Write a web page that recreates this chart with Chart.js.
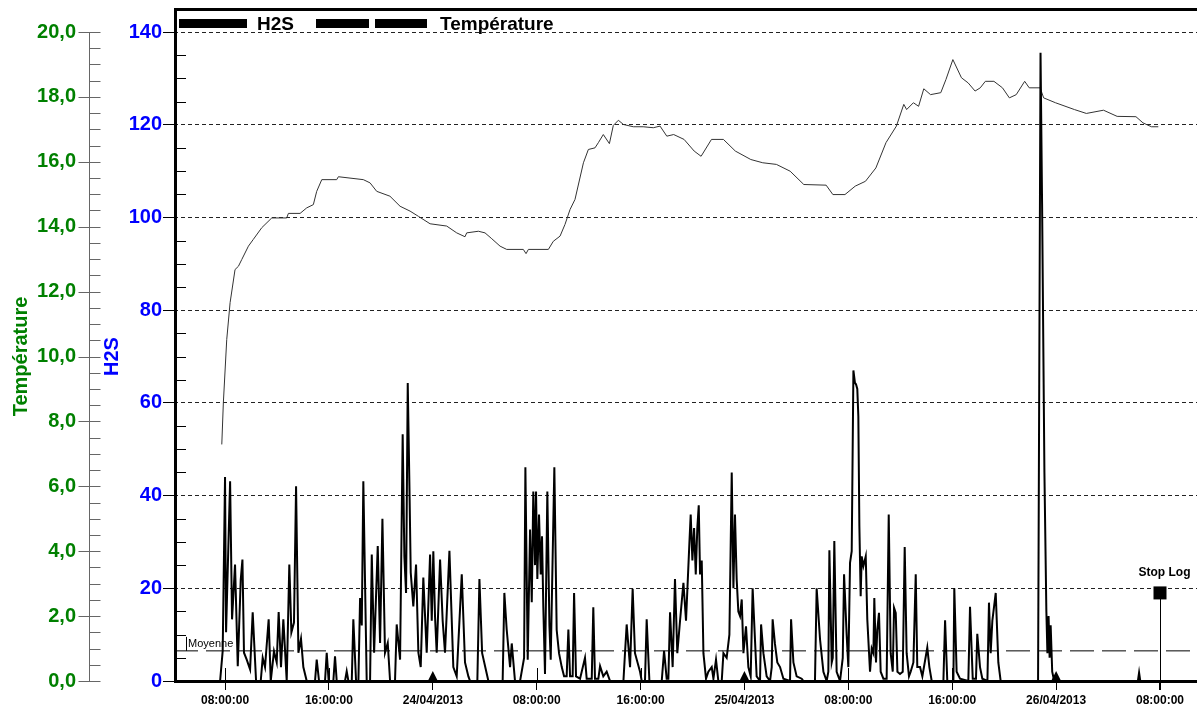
<!DOCTYPE html>
<html><head><meta charset="utf-8">
<script src="https://cdn.jsdelivr.net/npm/chart.js@4/dist/chart.umd.min.js"></script>
<style>html,body{margin:0;padding:0;background:#fff;overflow:hidden}#wrap{width:1197px;height:707px;position:relative}</style>
</head><body><div id="wrap"><canvas id="c" width="1197" height="707"></canvas></div>
<script>
const FONT = '"Liberation Sans", Arial, sans-serif';

// x axis: hours since 23/04/2013 00:00
const xRange = [4.07, 82.85];
const xTickHours = [8, 16, 24, 32, 40, 48, 56, 64, 72, 80];
const xTickLabels = ['08:00:00','16:00:00','24/04/2013','08:00:00','16:00:00','25/04/2013','08:00:00','16:00:00','26/04/2013','08:00:00'];
const dayMarkHours = [24, 48, 72];

const h2sRange = [0, 140];
const tempRange = [0, 20];

const tempHours = [7.75,7.87,8.13,8.39,8.77,9.03,9.29,9.80,10.18,10.83,11.6,12.75,12.88,13.78,14.29,14.8,15.06,15.45,16.6,16.73,18.65,19.17,19.68,20.7,21.48,22.25,22.89,23.79,25.07,25.84,26.48,26.61,27.51,28.02,28.54,29.18,29.69,30.97,31.18,31.36,32.9,33.28,33.8,34.18,34.57,34.95,35.6,35.98,36.49,36.75,37.13,37.6,37.9,38.29,38.68,39.44,40.2,40.98,41.5,42.02,42.55,43.35,44.13,44.66,45.46,46.38,47.3,48.49,49.41,50.46,51.52,52.57,54.29,54.81,55.74,56.53,57.32,58.12,58.9,59.7,60.27,60.49,61.01,61.41,61.81,62.33,63.12,63.52,64.05,64.71,65.23,65.76,66.16,66.55,67.21,67.87,68.4,68.93,69.58,69.93,70.77,71.04,71.95,73.41,74.33,75.65,76.7,78.15,78.69,79.34,79.87];
const tempValues = [7.29,8.57,10.52,11.66,12.68,12.78,12.99,13.40,13.61,13.97,14.27,14.27,14.41,14.41,14.58,14.68,15.09,15.45,15.45,15.54,15.45,15.35,15.09,14.94,14.63,14.48,14.32,14.09,14.02,13.81,13.69,13.81,13.86,13.81,13.63,13.40,13.30,13.30,13.17,13.30,13.30,13.55,13.71,14.07,14.53,14.84,15.97,16.38,16.43,16.59,16.84,16.56,17.12,17.28,17.15,17.08,17.08,17.05,17.10,16.79,16.84,16.69,16.33,16.17,16.69,16.69,16.33,16.07,15.97,15.92,15.71,15.30,15.28,14.99,14.99,15.25,15.40,15.81,16.59,17.10,17.77,17.61,17.82,17.71,18.25,18.07,18.13,18.54,19.15,18.59,18.43,18.18,18.28,18.48,18.48,18.28,17.97,18.07,18.48,18.28,18.28,17.97,17.82,17.61,17.49,17.59,17.40,17.39,17.20,17.08,17.08];

const h2sHours = [7.62,7.82,8.00,8.08,8.39,8.54,8.77,8.98,9.21,9.34,9.46,9.67,9.93,10.13,10.39,10.75,10.90,11.08,11.36,11.52,11.77,11.98,12.13,12.31,12.49,12.75,12.95,13.11,13.31,13.47,13.65,13.85,14.03,14.29,14.93,15.06,15.24,15.70,15.83,15.98,16.34,16.47,16.60,17.24,17.37,17.50,17.76,17.88,18.09,18.27,18.40,18.53,18.65,18.91,19.17,19.30,19.48,19.76,19.94,20.12,20.32,20.53,20.71,21.09,21.22,21.48,21.68,21.81,21.94,22.07,22.20,22.30,22.50,22.71,22.89,23.07,23.27,23.53,23.79,23.92,24.04,24.17,24.30,24.56,24.76,24.94,25.28,25.58,25.84,26.23,26.48,26.74,26.87,
27.43,27.59,27.80,28.28,29.38,29.51,29.69,29.95,30.08,30.33,30.72,31.03,31.13,31.31,31.49,31.62,31.74,31.87,31.95,32.05,32.18,32.31,32.41,32.51,32.64,32.82,32.98,33.08,33.36,33.54,33.72,33.93,34.11,34.31,34.44,34.57,34.77,34.88,35.03,35.34,35.72,35.85,36.24,36.36,36.49,36.75,36.88,37.13,37.39,37.65,38.68,38.80,38.93,39.19,39.39,39.57,39.96,40.09,40.34,40.47,40.68,41.63,41.81,42.01,42.14,42.27,42.47,42.65,42.83,43.04,43.30,43.50,43.76,43.86,43.99,44.12,44.25,44.37,44.48,44.58,44.71,44.84,45.04,45.22,45.48,45.61,45.81,45.99,46.25,46.38,46.63,46.84,47.02,47.15,47.27,47.40,47.53,47.66,47.79,47.92,48.12,48.30,48.48,48.63,
48.94,49.20,49.28,49.46,49.71,49.97,50.10,50.17,50.35,50.53,50.74,51.00,51.51,51.59,51.77,52.02,52.41,52.54,53.43,53.56,53.82,54.08,54.33,54.46,54.54,54.72,54.80,54.92,55.10,55.36,55.57,55.67,55.87,56.00,56.13,56.26,56.39,56.51,56.59,56.69,56.77,56.85,56.95,57.03,57.16,57.34,57.46,57.67,57.80,57.93,58.00,58.13,58.23,58.36,58.49,58.70,58.95,59.11,59.26,59.42,59.52,59.65,59.78,59.98,60.19,60.34,60.49,60.67,60.80,61.01,61.19,61.31,61.52,61.70,62.08,62.24,62.42,63.32,63.45,63.62,64.09,64.16,64.34,64.60,65.24,65.37,65.58,65.83,65.93,66.14,66.32,66.71,66.83,66.96,67.09,67.35,67.55,67.73,70.61,70.80,70.92,71.10,71.25,71.33,71.42,71.50,71.58,71.70,71.85,78.30,78.39,78.48,80.00];
const h2sValues = [0,6.5,44.0,10.5,43.1,13.3,25.1,3.2,21.9,26.2,6.1,4.6,2.5,14.8,0,0,5.0,3.0,13.3,0,6.4,4.0,14.9,3.0,13.3,0,25.1,10.5,12.6,42.0,6.1,9.1,3.0,0,0,4.6,0,0,6.1,0,0,5.3,0,0,2.1,0,0,13.3,0,0,17.9,12,43.1,0,0,27.3,6.1,29.1,8.2,35.0,6.1,8.2,0,0,12.2,4.6,53.2,26.9,19.0,64.3,42.0,23.4,16.1,25.1,6.1,3.0,22.3,6.1,27.3,13.0,28.0,14.0,6.1,26.2,13.0,6.1,28.1,3.0,1.0,23.0,4.0,1.0,0,
0,22.0,6.0,0,0,19.0,11.1,3.0,8.1,0,0,5.0,46.1,4.6,32.7,17.0,40.9,25.0,40.9,22.0,35.9,23.0,31.2,16.0,1.5,40.9,12.0,4.6,46.1,11.0,6.0,3.0,1.0,1.0,11.1,1.0,1.0,19.0,1.0,0.5,5.0,0.5,0.5,15.9,0.5,0.5,3.2,1.0,2.0,0,0,6.0,12.2,3.0,19.9,6.0,2.0,0,0,13.3,0,0,6.5,0.5,0.5,14.8,3.0,22.0,6.0,13.0,21.2,13.0,29.8,35.9,26.0,33.0,23.0,33.0,37.9,23.0,26.0,6.0,0.5,2.0,3.0,0.5,4.6,0,0,6.0,5.0,10.0,45.0,20.0,35.9,22.0,15.0,14.0,17.6,6.0,11.8,3.0,1.0,20.0,
1.0,0,12.2,6.0,1.0,0,3.0,13.3,8.0,4.0,3.0,0.5,0,13.3,4.0,1.0,0.5,0,0,20.0,9.0,2.0,0,2.0,28.2,4.0,5.0,30.2,2.0,0,5.0,23.0,10.0,3.0,25.5,28.0,67.0,64.3,64.0,63.0,57.1,33.4,18.3,26.9,24.8,26.9,13.3,2.0,7.0,6.0,17.9,4.0,11.0,14.7,2.0,0.5,0.5,35.9,6.0,2.0,15.8,14.7,2.0,1.5,2.0,28.9,6.0,1.0,2.0,4.0,23.0,3.0,3.0,1.0,7.2,3.0,0,0,13.1,0,0,20.0,2.0,0.5,0,16.0,0.5,0.5,10.2,3.0,0.5,0,16.9,6.0,13.0,19.0,4.0,0,0,135.5,103.0,45.0,15.0,6.0,14.0,5.0,12.0,2.0,0,0,1.8,0,0];

const moyenneH2S = 6.5;
const stopLogHour = 80;
const stopLogH2S = 19;
const legendItems = ['H2S', 'Température'];

const toXY = (hs, vs) => hs.map((h, i) => ({x: h, y: vs[i]}));

const decor = {
  id: 'decor',
  afterDraw(chart) {
    const {ctx, chartArea: ca, scales} = chart;
    const x = scales.x, y = scales.y, yT = scales.yT;
    ctx.save();
    // temperature axis ticks
    ctx.strokeStyle = '#666'; ctx.lineWidth = 1;
    const ax = yT.right + 0.5;
    for (let v = tempRange[0]; v <= tempRange[1] + 1e-6; v += 0.5) {
      const py = Math.round(yT.getPixelForValue(v)) + 0.5;
      const major = Math.abs(v / 2 - Math.round(v / 2)) < 1e-6;
      ctx.beginPath(); ctx.moveTo(major ? ax - 11 : ax, py); ctx.lineTo(ax + 11, py); ctx.stroke();
    }
    // H2S minor ticks inside
    ctx.strokeStyle = '#000';
    for (let v = 5; v < h2sRange[1]; v += 5) {
      if (v % 20 === 0) continue;
      const py = Math.round(y.getPixelForValue(v)) + 0.5;
      ctx.beginPath(); ctx.moveTo(ca.left + 3, py); ctx.lineTo(ca.left + 12, py); ctx.stroke();
    }
    // x inside ticks for time ticks
    xTickHours.forEach(h => {
      if (dayMarkHours.includes(h)) return;
      const px = Math.round(x.getPixelForValue(h)) + 0.5;
      ctx.beginPath(); ctx.moveTo(px, ca.bottom - 13); ctx.lineTo(px, ca.bottom); ctx.stroke();
    });
    // day triangles
    ctx.fillStyle = '#000';
    dayMarkHours.forEach(h => {
      const px = x.getPixelForValue(h);
      ctx.beginPath(); ctx.moveTo(px - 5, ca.bottom); ctx.lineTo(px + 5, ca.bottom); ctx.lineTo(px, ca.bottom - 10); ctx.closePath(); ctx.fill();
    });
    // Moyenne label
    const my = y.getPixelForValue(moyenneH2S);
    ctx.lineWidth = 1;
    ctx.beginPath(); ctx.moveTo(ca.left + 12.5, my - 14); ctx.lineTo(ca.left + 12.5, my); ctx.stroke();
    ctx.font = '11px ' + FONT; ctx.textAlign = 'left'; ctx.textBaseline = 'alphabetic';
    ctx.fillText('Moyenne', ca.left + 14, my - 4);
    // Stop Log
    const sx = Math.round(x.getPixelForValue(stopLogHour)) + 0.5;
    const sy = y.getPixelForValue(stopLogH2S);
    ctx.beginPath(); ctx.moveTo(sx, sy); ctx.lineTo(sx, ca.bottom + 9); ctx.stroke();
    ctx.fillRect(sx - 7, sy - 6.5, 13, 13);
    ctx.font = 'bold 12px ' + FONT; ctx.textAlign = 'center'; ctx.textBaseline = 'middle';
    ctx.fillText('Stop Log', sx + 4, sy - 20);
    // frame
    ctx.lineWidth = 3; ctx.strokeStyle = '#000';
    ctx.beginPath();
    ctx.moveTo(ca.left + 1.5, ca.bottom + 2);
    ctx.lineTo(ca.left + 1.5, 9.5);
    ctx.lineTo(chart.width + 2, 9.5);
    ctx.stroke();
    ctx.beginPath(); ctx.moveTo(ca.left, ca.bottom + 0.5); ctx.lineTo(chart.width, ca.bottom + 0.5); ctx.stroke();
    // legend
    ctx.fillStyle = '#000';
    ctx.fillRect(179, 19, 68, 9);
    ctx.fillRect(316, 19, 53, 9);
    ctx.fillRect(375, 19, 52, 9);
    ctx.font = 'bold 19px ' + FONT; ctx.textAlign = 'left'; ctx.textBaseline = 'alphabetic';
    ctx.fillText(legendItems[0], 257, 30);
    ctx.fillText(legendItems[1], 440, 30);
    ctx.restore();
  }
};

new Chart(document.getElementById('c'), {
  type: 'line',
  data: {
    datasets: [
      {label: 'H2S', data: toXY(h2sHours, h2sValues), xAxisID: 'x', yAxisID: 'y', borderColor: '#000', borderWidth: 2, pointRadius: 0, tension: 0, fill: false},
      {label: 'Température', data: toXY(tempHours, tempValues), xAxisID: 'x', yAxisID: 'yT', borderColor: '#333', borderWidth: 1, pointRadius: 0, tension: 0, fill: false},
      {label: 'Moyenne', data: [{x: xRange[0], y: moyenneH2S}, {x: xRange[1], y: moyenneH2S}], xAxisID: 'x', yAxisID: 'y', borderColor: '#000', borderWidth: 1, borderDash: [24, 8], pointRadius: 0, fill: false}
    ]
  },
  options: {
    responsive: false, animation: false, devicePixelRatio: 1,
    layout: {padding: {top: 32, left: 0, right: 0, bottom: 0}},
    plugins: {legend: {display: false}, tooltip: {enabled: false}},
    scales: {
      x: {
        type: 'linear', min: xRange[0], max: xRange[1],
        afterBuildTicks: s => { s.ticks = xTickHours.map(v => ({value: v})); },
        afterFit: s => { s.height = 26; },
        ticks: {callback: v => xTickLabels[xTickHours.indexOf(v)], font: {family: FONT, size: 12, weight: 'bold'}, color: '#000', padding: 3, maxRotation: 0, autoSkip: false},
        grid: {drawOnChartArea: false, tickLength: 9, tickColor: '#000', tickWidth: 1},
        border: {display: false}
      },
      y: {
        position: 'left', weight: 0, min: h2sRange[0], max: h2sRange[1],
        afterFit: s => { s.width = 85; },
        ticks: {stepSize: 20, font: {family: FONT, size: 20, weight: 'bold'}, color: '#0000ff', padding: 1},
        grid: {color: c => (c.tick && c.tick.value === 0) ? 'rgba(0,0,0,0)' : '#222', lineWidth: 1, tickLength: 11, tickColor: '#000', tickWidth: 1, tickBorderDash: []},
        border: {display: false, dash: [4, 3]},
        title: {display: true, text: 'H2S', color: '#0000ff', font: {family: FONT, size: 20, weight: 'bold'}, padding: {top: 11, bottom: 0}}
      },
      yT: {
        position: 'left', weight: 1, min: tempRange[0], max: tempRange[1],
        afterFit: s => { s.width = 89; },
        ticks: {stepSize: 2, callback: v => Number(v).toFixed(1).replace('.', ','), font: {family: FONT, size: 20, weight: 'bold'}, color: '#008000', padding: 13},
        grid: {drawOnChartArea: false, drawTicks: false},
        border: {display: true, color: '#666', width: 1},
        title: {display: true, text: 'Température', color: '#008000', font: {family: FONT, size: 20, weight: 'bold'}, padding: {top: 9, bottom: 0}}
      }
    }
  },
  plugins: [decor]
});
</script>
</body></html>
